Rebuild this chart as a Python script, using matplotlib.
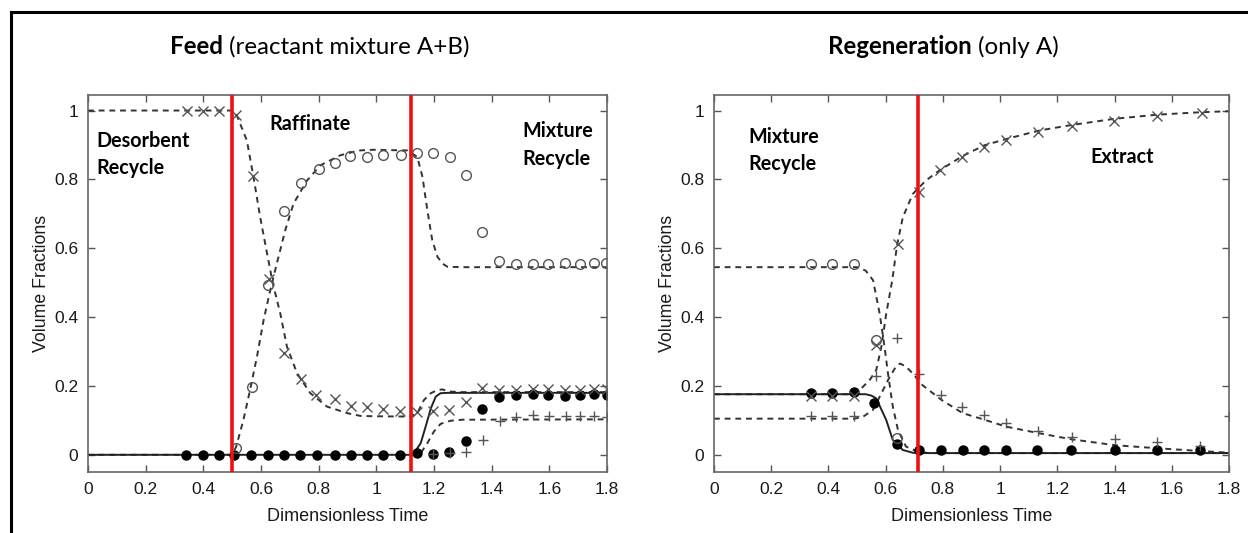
import matplotlib.pyplot as plt
from matplotlib.lines import Line2D

# ---------- Feed panel (left) ----------
# markers: x = desorbent, o = product, filled = A, + = B
feed_x_t = [0.342, 0.398, 0.456, 0.514, 0.572, 0.629, 0.681, 0.739, 0.792, 0.855, 0.913, 0.968,
            1.024, 1.082, 1.14, 1.198, 1.252, 1.31, 1.368, 1.426, 1.483, 1.542, 1.597, 1.655,
            1.706, 1.754, 1.80]
feed_x_v = [1.0, 1.0, 1.0, 0.986, 0.81, 0.51, 0.297, 0.22, 0.174, 0.162, 0.142, 0.14,
            0.133, 0.128, 0.123, 0.126, 0.13, 0.152, 0.193, 0.188, 0.188, 0.19, 0.19, 0.188,
            0.188, 0.19, 0.19]
feed_o_t = [0.514, 0.568, 0.626, 0.681, 0.739, 0.80, 0.855, 0.908, 0.968, 1.024, 1.084, 1.14,
            1.198, 1.255, 1.31, 1.366, 1.426, 1.486, 1.542, 1.597, 1.655, 1.706, 1.754, 1.797]
feed_o_v = [0.021, 0.198, 0.493, 0.708, 0.789, 0.831, 0.847, 0.867, 0.865, 0.872, 0.872, 0.876,
            0.876, 0.865, 0.812, 0.646, 0.564, 0.553, 0.553, 0.553, 0.557, 0.553, 0.557, 0.557]
feed_dot_t = [0.34, 0.398, 0.456, 0.507, 0.565, 0.623, 0.681, 0.736, 0.794, 0.855, 0.913, 0.968,
              1.024, 1.082, 1.14, 1.198, 1.252, 1.31, 1.368, 1.426, 1.483, 1.542, 1.597, 1.655,
              1.706, 1.754, 1.80]
feed_dot_v = [0, 0, 0, 0, 0, 0, 0, 0, 0, 0, 0, 0,
              0, 0, 0.005, 0.003, 0.008, 0.04, 0.133, 0.169, 0.174, 0.176, 0.174, 0.172,
              0.174, 0.176, 0.174]
feed_p_t = [1.198, 1.255, 1.31, 1.37, 1.43, 1.484, 1.542, 1.60, 1.658, 1.706, 1.754, 1.80]
feed_p_v = [0.003, 0.006, 0.008, 0.043, 0.099, 0.109, 0.116, 0.113, 0.113, 0.113, 0.113, 0.11]

# model curves
feed_xc_t = [0.0, 0.5, 0.516, 0.551, 0.574, 0.597, 0.621, 0.641, 0.667, 0.69, 0.725, 0.771, 0.829,
             0.899, 0.945, 0.991, 1.119, 1.142, 1.165, 1.189, 1.212, 1.23, 1.247, 1.30, 1.8]
feed_xc_v = [1.0, 1.0, 0.986, 0.913, 0.807, 0.691, 0.585, 0.498, 0.41, 0.314, 0.237, 0.179, 0.14,
             0.121, 0.113, 0.112, 0.111, 0.121, 0.159, 0.179, 0.188, 0.19, 0.184, 0.182, 0.182]
feed_oc_t = [0.0, 0.5, 0.514, 0.539, 0.562, 0.586, 0.609, 0.632, 0.655, 0.684, 0.713, 0.76, 0.806,
             0.875, 0.939, 0.991, 1.108, 1.142, 1.16, 1.177, 1.194, 1.212, 1.23, 1.247, 1.30, 1.8]
feed_oc_v = [0.0, 0.0, 0.024, 0.101, 0.188, 0.285, 0.391, 0.478, 0.556, 0.652, 0.73, 0.797, 0.841,
             0.87, 0.884, 0.886, 0.884, 0.865, 0.807, 0.71, 0.623, 0.575, 0.555, 0.546, 0.545, 0.545]
feed_sc_t = [0.0, 1.12, 1.131, 1.154, 1.171, 1.189, 1.206, 1.223, 1.25, 1.8]
feed_sc_v = [0.0, 0.0, 0.005, 0.034, 0.082, 0.135, 0.169, 0.179, 0.18, 0.18]
feed_pc_t = [1.12, 1.14, 1.154, 1.177, 1.20, 1.223, 1.258, 1.30, 1.8]
feed_pc_v = [0.0, 0.0, 0.005, 0.034, 0.068, 0.09, 0.099, 0.102, 0.103]

feed_switch = [0.5, 1.12]

# ---------- Regeneration panel (right) ----------
reg_x_t = [0.339, 0.413, 0.489, 0.567, 0.643, 0.716, 0.791, 0.867, 0.945, 1.02, 1.134, 1.25,
           1.399, 1.55, 1.705]
reg_x_v = [0.172, 0.172, 0.172, 0.32, 0.613, 0.763, 0.826, 0.864, 0.894, 0.913, 0.937, 0.954,
           0.971, 0.983, 0.992]
reg_o_t = [0.339, 0.413, 0.489, 0.567, 0.64]
reg_o_v = [0.554, 0.554, 0.554, 0.333, 0.05]
reg_dot_t = [0.339, 0.413, 0.489, 0.56, 0.64, 0.718, 0.794, 0.869, 0.945, 1.02, 1.13, 1.248,
             1.40, 1.55, 1.70]
reg_dot_v = [0.18, 0.18, 0.183, 0.151, 0.031, 0.014, 0.014, 0.014, 0.014, 0.014, 0.014, 0.014,
             0.014, 0.014, 0.014]
reg_p_t = [0.339, 0.413, 0.489, 0.565, 0.64, 0.718, 0.794, 0.867, 0.945, 1.02, 1.134, 1.25,
           1.40, 1.55, 1.70, 1.80]
reg_p_v = [0.114, 0.114, 0.114, 0.229, 0.34, 0.234, 0.174, 0.138, 0.116, 0.092, 0.07, 0.053,
           0.045, 0.036, 0.027, 0.113]

reg_xc_t = [0.0, 0.48, 0.509, 0.544, 0.567, 0.585, 0.602, 0.623, 0.64, 0.66, 0.695, 0.741, 0.788,
            0.869, 0.945, 1.02, 1.137, 1.25, 1.40, 1.55, 1.70, 1.8]
reg_xc_v = [0.176, 0.176, 0.188, 0.217, 0.246, 0.314, 0.41, 0.507, 0.61, 0.69, 0.758, 0.797, 0.826,
            0.868, 0.899, 0.917, 0.942, 0.958, 0.976, 0.988, 0.995, 0.998]
reg_oc_t = [0.0, 0.5, 0.53, 0.556, 0.579, 0.596, 0.608, 0.625, 0.643, 0.671, 0.71, 0.75, 1.8]
reg_oc_v = [0.545, 0.545, 0.535, 0.507, 0.41, 0.314, 0.237, 0.14, 0.072, 0.024, 0.01, 0.005, 0.005]
reg_sc_t = [0.0, 0.53, 0.55, 0.567, 0.602, 0.625, 0.66, 0.695, 0.73, 1.8]
reg_sc_v = [0.176, 0.176, 0.172, 0.164, 0.101, 0.043, 0.014, 0.006, 0.005, 0.005]
reg_pc_t = [0.0, 0.49, 0.52, 0.555, 0.58, 0.61, 0.635, 0.65, 0.67, 0.70, 0.72, 0.794, 0.869,
            0.945, 1.02, 1.134, 1.25, 1.40, 1.55, 1.70, 1.8]
reg_pc_v = [0.105, 0.105, 0.11, 0.13, 0.17, 0.22, 0.255, 0.265, 0.257, 0.232, 0.208, 0.16, 0.121,
            0.102, 0.082, 0.063, 0.045, 0.028, 0.019, 0.011, 0.006]

reg_switch = [0.712]

plt.rcParams['font.family'] = ['Liberation Sans', 'DejaVu Sans']

fig = plt.figure(figsize=(12.48, 5.33), dpi=100)
ax1 = fig.add_axes([0.0705, 0.1144, 0.4159, 0.7073])
ax2 = fig.add_axes([0.5721, 0.1144, 0.4127, 0.7073])

dash = dict(color='#333333', lw=1.4, linestyle=(0, (3, 2.5)))
mk_edge = '#555555'


def style(ax):
    ax.set_xlim(0, 1.8)
    ax.set_ylim(-0.05, 1.045)
    ax.set_xticks([0, 0.2, 0.4, 0.6, 0.8, 1, 1.2, 1.4, 1.6, 1.8])
    ax.set_xticklabels(['0', '0.2', '0.4', '0.6', '0.8', '1', '1.2', '1.4', '1.6', '1.8'])
    ax.set_yticks([0, 0.2, 0.4, 0.6, 0.8, 1])
    ax.set_yticklabels(['0', '0.2', '0.4', '0.6', '0.8', '1'])
    ax.tick_params(direction='in', top=True, right=True, length=5, width=1,
                   color='#555555', labelsize=12.5, labelcolor='#1a1a1a', pad=7)
    for s in ax.spines.values():
        s.set_color('#666666')
        s.set_linewidth(1.2)
    ax.set_xlabel('Dimensionless Time', fontsize=13, color='#1a1a1a', labelpad=8)
    ax.set_ylabel('Volume Fractions', fontsize=12.8, color='#1a1a1a', labelpad=3)


def draw(ax, xc, oc, sc, pc, xm, om, dm, pm, switches):
    ax.plot(*xc, **dash)
    ax.plot(*oc, **dash)
    ax.plot(*pc, **dash)
    ax.plot(*sc, color='#222222', lw=1.4)
    ax.plot(*dm, 'o', color='black', ms=6.5, ls='none')
    ax.plot(*xm, 'x', color=mk_edge, ms=6.5, mew=1.0, ls='none')
    ax.plot(*pm, '+', color=mk_edge, ms=6.5, mew=1.0, ls='none')
    ax.plot(*om, 'o', mfc='none', mec=mk_edge, ms=7, mew=1.0, ls='none')
    for s in switches:
        ax.axvline(s, color='#ee1111', lw=2.6, zorder=5)


draw(ax1, (feed_xc_t, feed_xc_v), (feed_oc_t, feed_oc_v), (feed_sc_t, feed_sc_v),
     (feed_pc_t, feed_pc_v), (feed_x_t, feed_x_v), (feed_o_t, feed_o_v),
     (feed_dot_t, feed_dot_v), (feed_p_t, feed_p_v), feed_switch)
draw(ax2, (reg_xc_t, reg_xc_v), (reg_oc_t, reg_oc_v), (reg_sc_t, reg_sc_v),
     (reg_pc_t, reg_pc_v), (reg_x_t, reg_x_v), (reg_o_t, reg_o_v),
     (reg_dot_t, reg_dot_v), (reg_p_t, reg_p_v), reg_switch)
style(ax1)
style(ax2)

lab = dict(fontsize=14.2, fontweight='bold', family='Lato', color='black',
           va='center', linespacing=1.45)
ax1.text(0.03, 0.872, 'Desorbent\nRecycle', **lab)
ax1.text(0.63, 0.96, 'Raffinate', **lab)
ax1.text(1.505, 0.90, 'Mixture\nRecycle', **lab)
ax2.text(0.12, 0.884, 'Mixture\nRecycle', **lab)
ax2.text(1.317, 0.865, 'Extract', **lab)

# panel titles: bold word followed by normal text
tt = dict(fontsize=17.4, family='Lato', color='black', va='center')
t1 = fig.text(0.136, 0.912, 'Feed', fontweight='bold', **tt)
t2 = fig.text(0.6635, 0.912, 'Regeneration', fontweight='bold', **tt)
fig.canvas.draw()
W = fig.bbox.width
for t, rest in [(t1, '(reactant mixture A+B)'), (t2, '(only A)')]:
    bb = t.get_window_extent()
    fig.text((bb.x1 + 6) / W, 0.912, rest, **tt)

# frame lines of the original slide
fig.add_artist(Line2D([0.0088, 1.0], [0.9775, 0.9775], color='black', lw=2.2,
                      transform=fig.transFigure))
fig.add_artist(Line2D([0.0088, 0.0088], [0.0, 0.9775], color='black', lw=2.2,
                      transform=fig.transFigure))

fig.savefig('out.png', dpi=100)
